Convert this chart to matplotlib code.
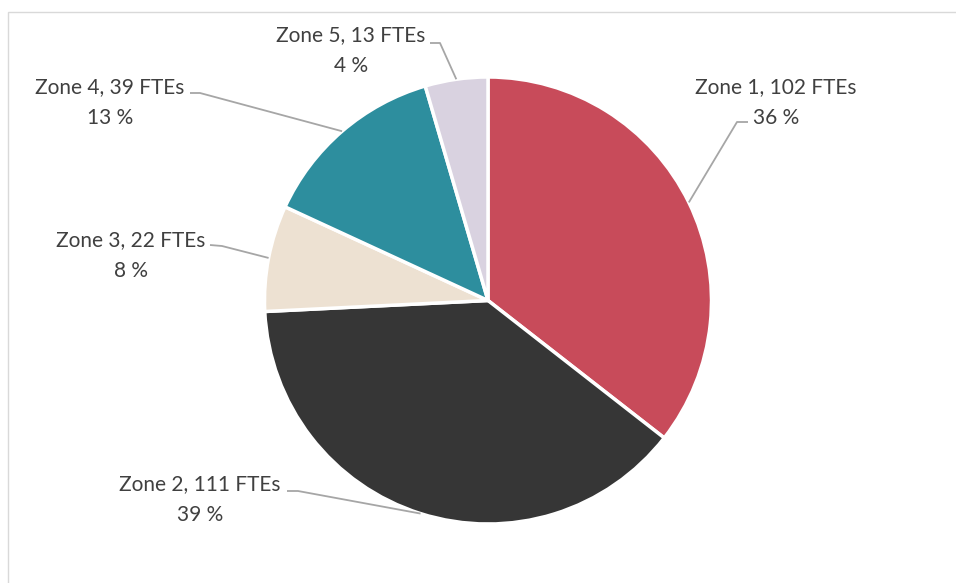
import numpy as np
import matplotlib
matplotlib.use("Agg")
import matplotlib.pyplot as plt
from matplotlib.patches import Rectangle

zones = ["Zone 1", "Zone 2", "Zone 3", "Zone 4", "Zone 5"]
ftes = [102, 111, 22, 39, 13]
pct_labels = [36, 39, 8, 13, 4]
colors = ["#C84B5A", "#363636", "#EDE1D2", "#2D8E9E", "#D9D2E0"]

W, H = 956, 583
fig = plt.figure(figsize=(W / 100, H / 100), dpi=100)
ax = fig.add_axes([0, 0, 1, 1])

def py(y):
    return H - y

# frame (cropped at right and bottom)
fig.patches.append(Rectangle((8 / W, -0.1), 2.0, 1 - 12 / H + 0.1, transform=fig.transFigure,
                             fill=False, edgecolor="#D9D9D9", linewidth=1.0))

cx, cy, R = 488, py(300.5), 223.5
wedges, _ = ax.pie(ftes, colors=colors, startangle=90, counterclock=False,
                   center=(cx, cy), radius=R, frame=True,
                   wedgeprops=dict(edgecolor="white", linewidth=2.5))
ax.set_xlim(0, W)
ax.set_ylim(0, H)
ax.set_aspect("equal")
ax.axis("off")

# label layout: text centre (px), elbow (px), end of horizontal (px)
text_pos = [(776, 103), (200, 500), (131, 256), (110, 103), (351, 51)]
elbows = [(737, 122), (298, 491), (222, 246), (200, 93), (440, 43)]
ends = [(748, 122), (287, 491), (210, 245), (190, 93), (430, 43)]

for i, w in enumerate(wedges):
    ang = np.deg2rad((w.theta1 + w.theta2) / 2)
    ex, ey = cx + R * np.cos(ang), cy + R * np.sin(ang)
    xs = [ex, elbows[i][0], ends[i][0]]
    ys = [ey, py(elbows[i][1]), py(ends[i][1])]
    ax.plot(xs, ys, color="#A6A6A6", lw=1.3, solid_capstyle="butt")
    ax.text(text_pos[i][0], py(text_pos[i][1]),
            f"{zones[i]}, {ftes[i]} FTEs\n{pct_labels[i]} %",
            ha="center", va="center", multialignment="center",
            fontsize=15, family="Lato", color="#404040", linespacing=1.68)

fig.savefig("out.png", dpi=100)
